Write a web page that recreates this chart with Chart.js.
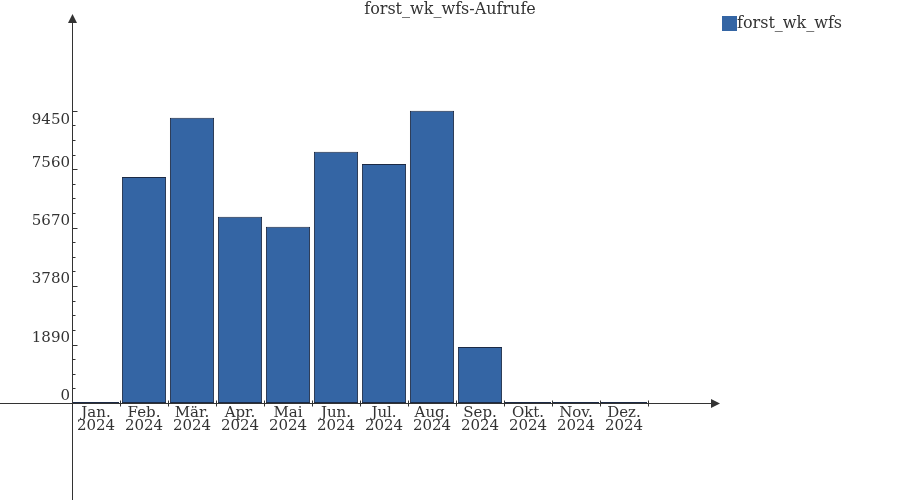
<!DOCTYPE html>
<html>
<head>
<meta charset="utf-8">
<script src="https://cdn.jsdelivr.net/npm/chart.js@4.4.1/dist/chart.umd.min.js"></script>
<style>
  body { margin: 0; background: #fff; }
  canvas { display: block; }
</style>
</head>
<body>
<canvas id="callsChart" width="900" height="500"></canvas>
<script>
// Monthly calls for the forst_wk_wfs service
const months = [
  ["Jan.", "2024"], ["Feb.", "2024"], ["Mär.", "2024"], ["Apr.", "2024"],
  ["Mai", "2024"], ["Jun.", "2024"], ["Jul.", "2024"], ["Aug.", "2024"],
  ["Sep.", "2024"], ["Okt.", "2024"], ["Nov.", "2024"], ["Dez.", "2024"]
];
const seriesName = "forst_wk_wfs";
const chartTitle = "forst_wk_wfs-Aufrufe";
const calls = [0, 7310, 9220, 6020, 5700, 8120, 7730, 9450, 1810, 0, 0, 0];
const yTicks = [0, 1890, 3780, 5670, 7560, 9450];
const yMinorStep = 472.5;
const yMax = 12285;

const FONT = "'DejaVu Serif', serif";
const INK = "#333";

// axes with arrows, tick marks, y labels, title and the legend box
const axesPlugin = {
  id: "axes",
  afterDraw(chart) {
    const { ctx, chartArea: a, scales: { x, y } } = chart;
    const ax = Math.round(a.left) + 0.5;
    const ay = Math.round(a.bottom) + 0.5;
    ctx.save();
    ctx.strokeStyle = INK;
    ctx.fillStyle = INK;
    ctx.lineWidth = 1;

    // x axis
    ctx.beginPath();
    ctx.moveTo(0, ay);
    ctx.lineTo(712, ay);
    ctx.stroke();
    ctx.beginPath();
    ctx.moveTo(720, ay);
    ctx.lineTo(711, ay - 4.5);
    ctx.lineTo(711, ay + 4.5);
    ctx.closePath();
    ctx.fill();

    // y axis
    ctx.beginPath();
    ctx.moveTo(ax, chart.height);
    ctx.lineTo(ax, 22);
    ctx.stroke();
    ctx.beginPath();
    ctx.moveTo(ax, 14);
    ctx.lineTo(ax - 4.5, 23);
    ctx.lineTo(ax + 4.5, 23);
    ctx.closePath();
    ctx.fill();

    // y ticks, major and minor
    const top = yTicks[yTicks.length - 1];
    ctx.beginPath();
    for (let v = 0; v <= top + 0.01; v += yMinorStep) {
      const py = Math.round(y.getPixelForValue(v)) + 0.5;
      const major = yTicks.some(t => Math.abs(t - v) < 0.01);
      ctx.moveTo(ax, py);
      ctx.lineTo(ax + (major ? 5 : 3), py);
    }
    ctx.stroke();

    // x ticks on the category borders
    ctx.beginPath();
    const half = (x.getPixelForValue(1) - x.getPixelForValue(0)) / 2;
    for (let i = 0; i <= months.length; i++) {
      const px = Math.round(x.getPixelForValue(0) - half + i * half * 2) + 0.5;
      ctx.moveTo(px, ay - 3);
      ctx.lineTo(px, ay + 3);
    }
    ctx.stroke();

    // zero bars still leave a thin edge on the baseline
    ctx.strokeStyle = chart.data.datasets[0].borderColor;
    ctx.beginPath();
    calls.forEach((v, i) => {
      if (v === 0) {
        const c = x.getPixelForValue(i);
        ctx.moveTo(c - half + 1, ay - 1);
        ctx.lineTo(c + half - 1, ay - 1);
      }
    });
    ctx.stroke();

    // y labels
    ctx.font = "15px " + FONT;
    ctx.textAlign = "right";
    ctx.textBaseline = "middle";
    yTicks.forEach((t, i) => {
      const py = y.getPixelForValue(t);
      const shift = i === yTicks.length - 1 ? 9.5 : -6.5;
      ctx.fillText(String(t), 70, py + shift);
    });

    // title, centred on the whole canvas
    ctx.font = "16px " + FONT;
    ctx.textAlign = "center";
    ctx.fillText(chartTitle, chart.width / 2, 9.5);

    // legend
    const ds = chart.data.datasets[0];
    ctx.fillStyle = ds.backgroundColor;
    ctx.fillRect(722, 16, 15, 15);
    ctx.fillStyle = INK;
    ctx.textAlign = "left";
    ctx.fillText(ds.label, 737, 23.5);
    ctx.restore();
  }
};

new Chart(document.getElementById("callsChart"), {
  type: "bar",
  data: {
    labels: months,
    datasets: [{
      label: seriesName,
      data: calls,
      backgroundColor: "#3465a4",
      borderColor: "#1c2a44",
      borderWidth: 1,
      borderSkipped: false,
      barPercentage: 0.92,
      categoryPercentage: 1
    }]
  },
  options: {
    responsive: false,
    animation: false,
    layout: { padding: { left: 72, right: 252, top: 23, bottom: 0 } },
    plugins: {
      legend: { display: false },
      tooltip: { enabled: false },
      title: { display: false }
    },
    scales: {
      x: {
        offset: true,
        grid: { display: false },
        border: { display: false },
        ticks: {
          color: INK,
          font: { family: FONT, size: 15, lineHeight: "13px" },
          padding: -4,
          maxRotation: 0,
          autoSkip: false
        },
        afterFit(scale) { scale.height = 97; }
      },
      y: {
        display: false,
        min: 0,
        max: yMax
      }
    }
  },
  plugins: [axesPlugin]
});
</script>
</body>
</html>
